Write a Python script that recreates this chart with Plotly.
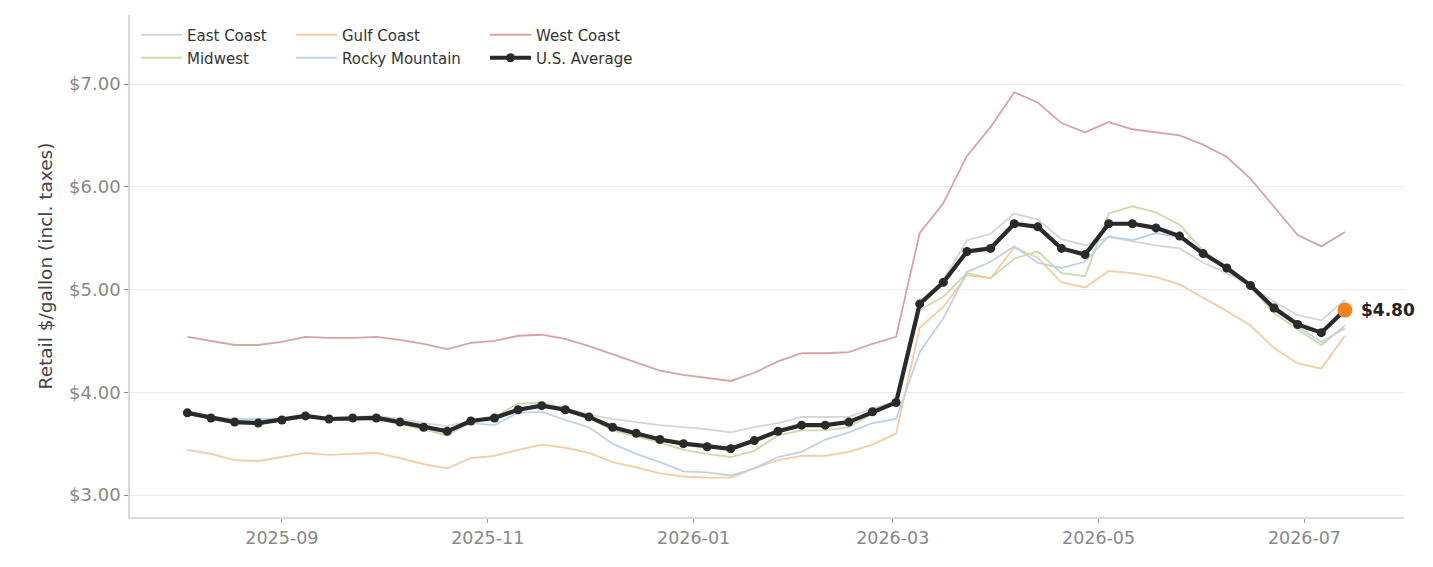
import pandas as pd
import plotly.graph_objects as go

dates = pd.date_range("2025-08-04", periods=50, freq="7D")

east_coast = [3.80,3.76,3.73,3.72,3.74,3.77,3.75,3.76,3.77,3.74,
              3.70,3.67,3.72,3.76,3.84,3.87,3.85,3.78,3.74,3.71,
              3.68,3.66,3.64,3.61,3.66,3.70,3.76,3.76,3.76,3.84,
              3.91,4.87,5.09,5.48,5.54,5.74,5.68,5.49,5.43,5.51,
              5.47,5.43,5.40,5.26,5.16,5.04,4.88,4.75,4.70,4.90]
midwest = [3.79,3.74,3.70,3.69,3.72,3.76,3.73,3.73,3.74,3.69,
           3.64,3.58,3.71,3.76,3.89,3.90,3.84,3.75,3.63,3.57,
           3.51,3.44,3.40,3.37,3.43,3.58,3.63,3.63,3.66,3.79,
           3.90,4.80,4.93,5.16,5.11,5.30,5.37,5.16,5.13,5.74,
           5.81,5.75,5.63,5.38,5.19,5.03,4.77,4.61,4.46,4.65]
gulf_coast = [3.44,3.40,3.34,3.33,3.37,3.41,3.39,3.40,3.41,3.36,
              3.30,3.26,3.36,3.38,3.44,3.49,3.46,3.41,3.32,3.27,
              3.21,3.18,3.17,3.17,3.26,3.34,3.38,3.38,3.42,3.49,
              3.60,4.63,4.83,5.14,5.11,5.41,5.31,5.07,5.02,5.18,
              5.16,5.12,5.05,4.92,4.79,4.65,4.43,4.28,4.23,4.55]
rocky_mountain = [3.79,3.76,3.74,3.74,3.74,3.77,3.74,3.75,3.75,3.71,
                  3.68,3.61,3.70,3.68,3.80,3.81,3.73,3.66,3.50,3.40,
                  3.32,3.23,3.22,3.19,3.26,3.37,3.42,3.54,3.61,3.70,
                  3.74,4.39,4.72,5.17,5.27,5.42,5.26,5.21,5.27,5.52,
                  5.48,5.55,5.51,5.35,5.19,5.04,4.80,4.64,4.49,4.62]
west_coast = [4.54,4.50,4.46,4.46,4.49,4.54,4.53,4.53,4.54,4.51,
              4.47,4.42,4.48,4.50,4.55,4.56,4.52,4.45,4.37,4.29,
              4.21,4.17,4.14,4.11,4.19,4.30,4.38,4.38,4.39,4.47,
              4.54,5.55,5.84,6.30,6.58,6.92,6.82,6.62,6.53,6.63,
              6.56,6.53,6.50,6.41,6.29,6.08,5.81,5.53,5.42,5.56]
us_average = [3.80,3.75,3.71,3.70,3.73,3.77,3.74,3.75,3.75,3.71,
              3.66,3.62,3.72,3.75,3.83,3.87,3.83,3.76,3.66,3.60,
              3.54,3.50,3.47,3.45,3.53,3.62,3.68,3.68,3.71,3.81,
              3.90,4.86,5.07,5.37,5.40,5.64,5.61,5.40,5.34,5.64,
              5.64,5.60,5.52,5.35,5.21,5.04,4.82,4.66,4.58,4.80]

y_ticks = [3, 4, 5, 6, 7]
x_ticks = ["2025-09-01", "2025-11-01", "2026-01-01", "2026-03-01", "2026-05-01", "2026-07-01"]

FONT = "DejaVu Sans"
regions = [
    ("East Coast", east_coast, "#d5d5d5", "legend"),
    ("Midwest", midwest, "#c9dcaa", "legend2"),
    ("Gulf Coast", gulf_coast, "#f7cba3", "legend3"),
    ("Rocky Mountain", rocky_mountain, "#bed3e8", "legend4"),
    ("West Coast", west_coast, "#d9a3a3", "legend5"),
]

fig = go.Figure()
for name, vals, col, lg in regions:
    fig.add_trace(go.Scatter(x=dates, y=vals, mode="lines", name=name,
                             line=dict(color=col, width=1.8), legend=lg))

fig.add_trace(go.Scatter(x=dates, y=us_average, mode="lines+markers", name="U.S. Average",
                         line=dict(color="#2a2a2a", width=4.2),
                         marker=dict(size=9, color="#2a2a2a"), legend="legend6"))

fig.add_trace(go.Scatter(x=[dates[-1]], y=[us_average[-1]], mode="markers",
                         marker=dict(size=15, color="#f5821f"),
                         showlegend=False, cliponaxis=False))
fig.add_annotation(x=dates[-1], y=us_average[-1], text=f"<b>${us_average[-1]:.2f}</b>",
                   showarrow=False, xanchor="left", yanchor="middle", xshift=14,
                   font=dict(family=FONT, size=17, color="#222222"))

W, H = 1433, 567
ml, mr, mt, mb = 130, 29, 15, 50
pw, ph = W - ml - mr, H - mt - mb

def lx(px):
    return (px - ml) / pw

def ly(py):
    return (H - mb - py) / ph

leg_common = dict(font=dict(family=FONT, size=15, color="#333333"), bgcolor="rgba(0,0,0,0)",
                  borderwidth=0, xanchor="left", yanchor="middle", itemwidth=41)
col_x = [136, 291, 485]
row_y = [35, 58]
layout_legends = {}
names = ["legend", "legend2", "legend3", "legend4", "legend5", "legend6"]
for i, nm in enumerate(names):
    c, r = divmod(i, 2)
    layout_legends[nm] = dict(x=lx(col_x[c]), y=ly(row_y[r]), **leg_common)

fig.update_layout(
    width=W, height=H,
    margin=dict(l=ml, r=mr, t=mt, b=mb),
    paper_bgcolor="white", plot_bgcolor="white",
    font=dict(family=FONT, color="#444444"),
    showlegend=True,
    **layout_legends,
)

fig.update_xaxes(
    type="date",
    range=["2025-07-18", "2026-07-30 12:00"],
    tickvals=x_ticks, tickformat="%Y-%m",
    tickfont=dict(family=FONT, size=17.5, color="#888888"),
    ticks="outside", ticklen=4, tickcolor="#999999",
    showgrid=False, showline=True, linecolor="#d9d9d9", linewidth=1.5,
    zeroline=False,
)
fig.update_yaxes(
    range=[2.786, 7.672],
    tickvals=y_ticks, tickformat="$.2f",
    tickfont=dict(family=FONT, size=18, color="#888888"),
    ticks="outside", ticklen=4, tickcolor="#888888",
    showgrid=True, gridcolor="#ebebeb", gridwidth=1.2,
    showline=True, linecolor="#d9d9d9", linewidth=1.5,
    zeroline=False,
    title=dict(text="Retail $/gallon (incl. taxes)", font=dict(family=FONT, size=18.5, color="#444444"), standoff=12),
)

fig.write_html("out.html")
